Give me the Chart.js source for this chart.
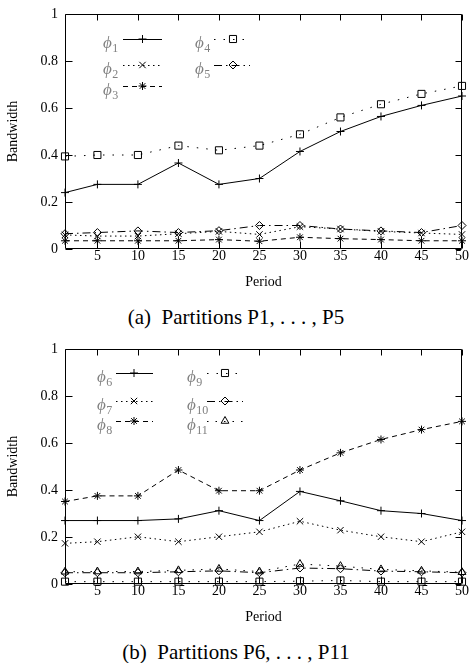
<!DOCTYPE html>
<html>
<head>
<meta charset="utf-8">
<script src="https://cdn.jsdelivr.net/npm/chart.js@4/dist/chart.umd.min.js"></script>
<style>
  html, body { margin: 0; padding: 0; background: #fff; }
  body { width: 472px; height: 663px; overflow: hidden; }
  .blk { position: relative; width: 472px; height: 335px; }
  .blk canvas { position: absolute; left: 0; top: 0; }
  .cap { position: absolute; left: 0; top: 307px; width: 472px; text-align: center;
         font: 21px/21px "Liberation Serif", "Times New Roman", serif; color: #000; white-space: nowrap; }
</style>
</head>
<body>
<div class="blk"><canvas id="ca" width="472" height="300"></canvas><div class="cap">(a)&ensp;Partitions P1, . . . , P5</div></div>
<div class="blk"><canvas id="cb" width="472" height="300"></canvas><div class="cap">(b)&ensp;Partitions P6, . . . , P11</div></div>
<script>
// ---------- data ----------
const periods = [1, 5, 10, 15, 20, 25, 30, 35, 40, 45, 50];
const xTicks = [5, 10, 15, 20, 25, 30, 35, 40, 45, 50];
const yTicks = [0, 0.2, 0.4, 0.6, 0.8, 1];
const yTickLabels = ['0', '0.2', '0.4', '0.6', '0.8', '1'];
const xTitle = 'Period';
const yTitle = 'Bandwidth';

const namesA = ['ϕ1', 'ϕ2', 'ϕ3', 'ϕ4', 'ϕ5'];
const phi1 = [0.24, 0.275, 0.275, 0.366, 0.275, 0.30, 0.415, 0.50, 0.564, 0.611, 0.651];
const phi2 = [0.06, 0.055, 0.055, 0.065, 0.075, 0.062, 0.095, 0.085, 0.075, 0.068, 0.062];
const phi3 = [0.035, 0.035, 0.035, 0.035, 0.04, 0.033, 0.05, 0.044, 0.04, 0.035, 0.035];
const phi4 = [0.394, 0.40, 0.40, 0.44, 0.42, 0.44, 0.488, 0.56, 0.616, 0.66, 0.694];
const phi5 = [0.065, 0.07, 0.077, 0.07, 0.078, 0.10, 0.10, 0.085, 0.077, 0.07, 0.10];

const namesB = ['ϕ6', 'ϕ7', 'ϕ8', 'ϕ9', 'ϕ10', 'ϕ11'];
const phi6 = [0.27, 0.27, 0.27, 0.277, 0.312, 0.27, 0.394, 0.354, 0.312, 0.30, 0.27];
const phi7 = [0.173, 0.18, 0.201, 0.18, 0.201, 0.222, 0.267, 0.229, 0.201, 0.18, 0.222];
const phi8 = [0.351, 0.375, 0.375, 0.485, 0.397, 0.397, 0.485, 0.558, 0.615, 0.657, 0.692];
const phi9 = [0.01, 0.01, 0.01, 0.01, 0.01, 0.01, 0.012, 0.015, 0.01, 0.01, 0.01];
const phi10 = [0.048, 0.048, 0.048, 0.052, 0.056, 0.048, 0.068, 0.065, 0.055, 0.052, 0.048];
const phi11 = [0.052, 0.053, 0.053, 0.058, 0.064, 0.053, 0.085, 0.076, 0.062, 0.056, 0.05];

// ---------- styles ----------
const styles = [
  { dash: [], point: 'cross', r: 4 },
  { dash: [1.5, 3.5], point: 'crossRot', r: 4.5 },
  { dash: [5, 4], point: 'star', r: 4 },
  { dash: [1.5, 8], point: 'rect', r: 5 },
  { dash: [8, 4, 1.5, 4], point: 'rectRot', r: 4 },
  { dash: [1.5, 7], point: 'triangle', r: 4.5 }
];
const SERIF = '"Liberation Serif", "Times New Roman", serif';

function makeDatasets(names, series) {
  return series.map((vals, i) => ({
    label: names[i],
    data: periods.map((p, k) => ({ x: p, y: vals[k] })),
    borderColor: '#000',
    borderWidth: 1,
    borderDash: styles[i].dash,
    pointStyle: styles[i].point,
    pointRadius: styles[i].r,
    pointHoverRadius: styles[i].r,
    pointBorderColor: '#000',
    pointBackgroundColor: 'rgba(0,0,0,0)',
    pointBorderWidth: 1,
    tension: 0,
    fill: false,
    clip: false
  }));
}

// frame with inward mirrored ticks
const framePlugin = {
  id: 'frame',
  beforeDatasetsDraw(chart) {
    const { ctx, chartArea: a, scales } = chart;
    const xs = scales.x, ys = scales.y;
    ctx.save();
    ctx.strokeStyle = '#000';
    ctx.lineWidth = 1;
    ctx.setLineDash([]);
    const L = Math.round(a.left) + 0.5, R = Math.round(a.right) - 0.5;
    const T = Math.round(a.top) + 0.5, B = Math.round(a.bottom) - 0.5;
    ctx.beginPath();
    ctx.rect(L, T, R - L, B - T);
    ctx.stroke();
    ctx.beginPath();
    xTicks.forEach(v => {
      const px = Math.round(xs.getPixelForValue(v)) + 0.5;
      ctx.moveTo(px, B); ctx.lineTo(px, B - 7);
      ctx.moveTo(px, T); ctx.lineTo(px, T + 6);
    });
    yTicks.forEach(v => {
      const py = Math.round(ys.getPixelForValue(v)) + 0.5;
      ctx.moveTo(L, py); ctx.lineTo(L + 7, py);
      ctx.moveTo(R, py); ctx.lineTo(R - 6, py);
    });
    ctx.stroke();
    ctx.restore();
  }
};

function drawMarker(ctx, style, r, x, y) {
  if (Chart.helpers && Chart.helpers.drawPoint) {
    Chart.helpers.drawPoint(ctx, { pointStyle: style, radius: r, rotation: 0, borderWidth: 1 }, x, y);
  }
}

// two-column key inside the plot
const keyPlugin = {
  id: 'phiKey',
  afterDatasetsDraw(chart, args, opts) {
    const { ctx, chartArea: a } = chart;
    ctx.save();
    chart.data.datasets.forEach((ds, i) => {
      const col = opts.cols[Math.floor(i / 3)];
      const yl = Math.round(a.top + opts.rows[i % 3]) + 0.5;
      const gx = a.left + col.text;
      ctx.fillStyle = '#808080';
      ctx.textAlign = 'left';
      ctx.textBaseline = 'alphabetic';
      ctx.font = 'italic 17px ' + SERIF;
      const glyph = ds.label.charAt(0);
      ctx.fillText(glyph, gx, yl + 8);
      const w = ctx.measureText(glyph).width;
      ctx.font = '12px ' + SERIF;
      ctx.fillText(ds.label.slice(1), gx + w + 0.5, yl + 12);
      ctx.strokeStyle = '#000';
      ctx.lineWidth = 1;
      ctx.setLineDash(ds.borderDash || []);
      ctx.beginPath();
      ctx.moveTo(a.left + col.s0, yl);
      ctx.lineTo(a.left + col.s1, yl);
      ctx.stroke();
      ctx.setLineDash([]);
      ctx.fillStyle = 'rgba(0,0,0,0)';
      drawMarker(ctx, ds.pointStyle, ds.pointRadius, a.left + col.m, yl - 0.5);
    });
    ctx.restore();
  }
};

function makeChart(id, names, series, key) {
  return new Chart(document.getElementById(id), {
    type: 'line',
    data: { datasets: makeDatasets(names, series) },
    options: {
      responsive: false,
      animation: false,
      devicePixelRatio: 1,
      events: [],
      layout: { padding: { top: 13, right: 10, bottom: 0, left: 0 } },
      scales: {
        x: {
          type: 'linear', min: 1, max: 50,
          afterBuildTicks(s) { s.ticks = xTicks.map(v => ({ value: v })); },
          afterFit(s) { s.height = 51; },
          grid: { display: false, drawTicks: false },
          border: { display: false },
          ticks: { color: '#000', padding: 0, maxRotation: 0, autoSkip: false,
                   font: { family: SERIF, size: 14, lineHeight: 1 },
                   callback: v => String(v) },
          title: { display: true, text: xTitle, color: '#000',
                   font: { family: SERIF, size: 14, lineHeight: 1.2 },
                   padding: { top: 0, bottom: 9 } }
        },
        y: {
          type: 'linear', min: 0, max: 1,
          afterBuildTicks(s) { s.ticks = yTicks.map(v => ({ value: v })); },
          afterFit(s) { s.width = 65; },
          grid: { display: false, drawTicks: false },
          border: { display: false },
          ticks: { color: '#000', padding: 7, autoSkip: false,
                   font: { family: SERIF, size: 14, lineHeight: 1 },
                   callback: (v, i) => yTickLabels[i] },
          title: { display: true, text: yTitle, color: '#000',
                   font: { family: SERIF, size: 14, lineHeight: 1.2 },
                   padding: { top: 5, bottom: 0 } }
        }
      },
      plugins: {
        legend: { display: false },
        tooltip: { enabled: false },
        phiKey: key
      }
    },
    plugins: [framePlugin, keyPlugin]
  });
}

makeChart('ca', namesA, [phi1, phi2, phi3, phi4, phi5], {
  rows: [24.5, 51, 72],
  cols: [ { text: 38, s0: 58, s1: 97, m: 77.5 },
          { text: 130, s0: 149, s1: 185, m: 168 } ]
});
makeChart('cb', namesB, [phi6, phi7, phi8, phi9, phi10, phi11], {
  rows: [24, 51.5, 72],
  cols: [ { text: 32, s0: 51, s1: 88, m: 69 },
          { text: 122, s0: 142, s1: 178, m: 160 } ]
});
</script>
</body>
</html>
